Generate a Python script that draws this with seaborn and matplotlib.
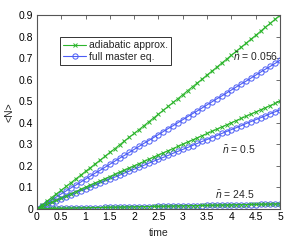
import numpy as np
import pandas as pd
import matplotlib
matplotlib.use('Agg')
import matplotlib.pyplot as plt
import seaborn as sns

# time samples (dt = 0.1)
time = [0.0, 0.1, 0.2, 0.3, 0.4, 0.5, 0.6, 0.7, 0.8, 0.9,
        1.0, 1.1, 1.2, 1.3, 1.4, 1.5, 1.6, 1.7, 1.8, 1.9,
        2.0, 2.1, 2.2, 2.3, 2.4, 2.5, 2.6, 2.7, 2.8, 2.9,
        3.0, 3.1, 3.2, 3.3, 3.4, 3.5, 3.6, 3.7, 3.8, 3.9,
        4.0, 4.1, 4.2, 4.3, 4.4, 4.5, 4.6, 4.7, 4.8, 4.9, 5.0]

# <N>, adiabatic approximation
adiab_0056 = [0.000, 0.017, 0.034, 0.052, 0.069, 0.086, 0.104, 0.121, 0.139, 0.156,
              0.174, 0.191, 0.209, 0.226, 0.244, 0.262, 0.279, 0.297, 0.315, 0.333,
              0.350, 0.368, 0.386, 0.404, 0.422, 0.440, 0.458, 0.476, 0.494, 0.512,
              0.530, 0.549, 0.567, 0.585, 0.603, 0.622, 0.640, 0.658, 0.677, 0.695,
              0.714, 0.732, 0.751, 0.769, 0.788, 0.806, 0.825, 0.844, 0.862, 0.881, 0.900]
adiab_05 = [0.000, 0.010, 0.020, 0.030, 0.040, 0.050, 0.060, 0.070, 0.080, 0.090,
            0.100, 0.110, 0.120, 0.130, 0.140, 0.150, 0.160, 0.170, 0.180, 0.190,
            0.200, 0.210, 0.220, 0.230, 0.240, 0.250, 0.260, 0.270, 0.280, 0.290,
            0.300, 0.310, 0.320, 0.330, 0.340, 0.350, 0.360, 0.370, 0.380, 0.390,
            0.400, 0.410, 0.420, 0.430, 0.440, 0.450, 0.460, 0.470, 0.480, 0.490, 0.500]
adiab_245 = [0.0000, 0.0005, 0.0009, 0.0014, 0.0018, 0.0023, 0.0028, 0.0032, 0.0037, 0.0041,
             0.0046, 0.0051, 0.0055, 0.0060, 0.0064, 0.0069, 0.0074, 0.0078, 0.0083, 0.0087,
             0.0092, 0.0097, 0.0101, 0.0106, 0.0110, 0.0115, 0.0120, 0.0124, 0.0129, 0.0133,
             0.0138, 0.0143, 0.0147, 0.0152, 0.0156, 0.0161, 0.0166, 0.0170, 0.0175, 0.0179,
             0.0184, 0.0189, 0.0193, 0.0198, 0.0202, 0.0207, 0.0212, 0.0216, 0.0221, 0.0225, 0.0230]

# <N>, full master equation
master_0056 = [0.000, 0.013, 0.027, 0.041, 0.055, 0.069, 0.083, 0.097, 0.110, 0.124,
               0.138, 0.152, 0.166, 0.179, 0.193, 0.207, 0.221, 0.235, 0.248, 0.262,
               0.276, 0.290, 0.304, 0.317, 0.331, 0.345, 0.359, 0.373, 0.386, 0.400,
               0.414, 0.428, 0.442, 0.455, 0.469, 0.483, 0.497, 0.511, 0.524, 0.538,
               0.552, 0.566, 0.580, 0.593, 0.607, 0.621, 0.635, 0.649, 0.662, 0.676, 0.690]
master_05 = [0.000, 0.009, 0.018, 0.028, 0.037, 0.046, 0.055, 0.064, 0.074, 0.083,
             0.092, 0.101, 0.110, 0.120, 0.129, 0.138, 0.147, 0.156, 0.166, 0.175,
             0.184, 0.193, 0.202, 0.212, 0.221, 0.230, 0.239, 0.248, 0.258, 0.267,
             0.276, 0.285, 0.294, 0.304, 0.313, 0.322, 0.331, 0.340, 0.350, 0.359,
             0.368, 0.377, 0.386, 0.396, 0.405, 0.414, 0.423, 0.432, 0.442, 0.451, 0.460]
master_245 = [0.0000, 0.0004, 0.0009, 0.0013, 0.0018, 0.0022, 0.0026, 0.0031, 0.0035, 0.0040,
              0.0044, 0.0048, 0.0053, 0.0057, 0.0062, 0.0066, 0.0070, 0.0075, 0.0079, 0.0084,
              0.0088, 0.0092, 0.0097, 0.0101, 0.0106, 0.0110, 0.0114, 0.0119, 0.0123, 0.0128,
              0.0132, 0.0136, 0.0141, 0.0145, 0.0150, 0.0154, 0.0158, 0.0163, 0.0167, 0.0172,
              0.0176, 0.0180, 0.0185, 0.0189, 0.0194, 0.0198, 0.0202, 0.0207, 0.0211, 0.0216, 0.0220]

nbar_labels = ['0.056', '0.5', '24.5']
label_pos = [(4.49, 0.705), (4.16, 0.273), (4.07, 0.064)]
xticks = [0, 0.5, 1, 1.5, 2, 2.5, 3, 3.5, 4, 4.5, 5]
yticks = [0, 0.1, 0.2, 0.3, 0.4, 0.5, 0.6, 0.7, 0.8, 0.9]

green = '#2cb52c'
blue = '#4b5cf5'
fs = 7.5

sns.set_style('white')
plt.rcParams['font.family'] = ['Liberation Sans', 'DejaVu Sans']
plt.rcParams['mathtext.fontset'] = 'custom'
plt.rcParams['mathtext.it'] = 'Liberation Sans:italic'
plt.rcParams['mathtext.rm'] = 'Liberation Sans'

fig = plt.figure(figsize=(2.84, 2.40), dpi=100)
ax = fig.add_axes([0.130, 0.130, 0.856, 0.807])

masters = [master_0056, master_05, master_245]
adiabs = [adiab_0056, adiab_05, adiab_245]
for i in range(3):
    sns.lineplot(x=time, y=masters[i], ax=ax, color=blue, linewidth=0.8,
                 marker='o', markersize=3.8, markerfacecolor='none',
                 markeredgecolor=blue, markeredgewidth=0.7,
                 label='full master eq.' if i == 0 else None, legend=False)
for i in range(3):
    sns.lineplot(x=time, y=adiabs[i], ax=ax, color=green, linewidth=0.8,
                 marker='x', markersize=2.6, markeredgecolor=green,
                 markeredgewidth=0.7,
                 label='adiabatic approx.' if i == 0 else None, legend=False)

for lab, (tx, ty) in zip(nbar_labels, label_pos):
    ax.text(tx, ty, r'$\bar{n}$ = ' + lab, fontsize=fs, ha='center', va='center')

ax.set_xlim(0, 5)
ax.set_ylim(0, 0.9)
ax.set_xticks(xticks)
ax.set_xticklabels(['0', '0.5', '1', '1.5', '2', '2.5', '3', '3.5', '4', '4.5', '5'])
ax.set_yticks(yticks)
ax.set_yticklabels(['0', '0.1', '0.2', '0.3', '0.4', '0.5', '0.6', '0.7', '0.8', '0.9'])
ax.tick_params(direction='in', length=3, width=0.6, colors='#555555',
               labelcolor='black', labelsize=fs, top=True, right=True, pad=2.5)
for s in ax.spines.values():
    s.set_color('#555555')
    s.set_linewidth(0.8)
ax.set_xlabel('time', fontsize=fs, labelpad=4)
ax.set_ylabel('<N>', fontsize=fs, labelpad=3)

h, l = ax.get_legend_handles_labels()
order = [l.index('adiabatic approx.'), l.index('full master eq.')]
leg = ax.legend([h[k] for k in order], [l[k] for k in order],
                loc='upper left', bbox_to_anchor=(0.095, 0.886), borderaxespad=0,
                fontsize=fs, fancybox=False, framealpha=1, edgecolor='#333333',
                handlelength=2.2, handletextpad=0.3, borderpad=0.3, labelspacing=0.15)
leg.get_frame().set_linewidth(0.7)

fig.savefig('out.png', dpi=100)
